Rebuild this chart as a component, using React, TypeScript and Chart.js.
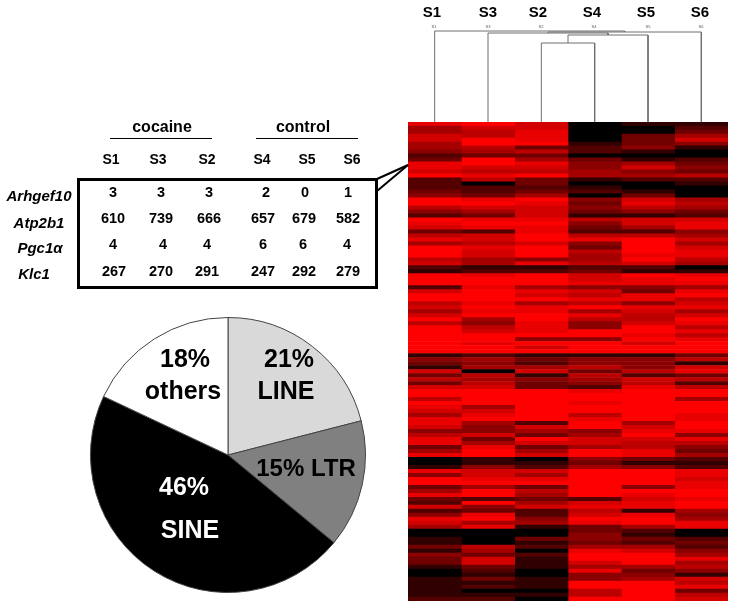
import React, { useEffect, useRef } from "react";
import { Chart, registerables } from "chart.js";

Chart.register(...registerables);

// ---------- data ----------
const samples = ["S1", "S3", "S2", "S4", "S5", "S6"];
const genes = ["Arhgef10", "Atp2b1", "Pgc1α", "Klc1"];
const arhgef10 = [3, 3, 3, 2, 0, 1];
const atp2b1 = [610, 739, 666, 657, 679, 582];
const pgc1a = [4, 4, 4, 6, 6, 4];
const klc1 = [267, 270, 291, 247, 292, 279];

const pieLabels = ["LINE", "LTR", "SINE", "others"];
const pieValues = [21, 15, 46, 18];
const pieColors = ["#d9d9d9", "#808080", "#000000", "#ffffff"];

// heat map intensity per row (0 = black, 9 = full red)
const heatS1 = [8,5,5,7,7,5,5,4,2,3,8,8,7,9,2,2,2,3,4,9,9,6,4,2,9,8,7,3,6,8,5,9,9,9,6,7,2,1,9,
  9,9,2,7,9,9,6,7,5,7,9,6,9,9,9,9,9,9,9,1,4,3,1,7,3,6,3,7,9,9,6,9,8,7,5,8,8,7,4,6,
  8,8,3,5,8,0,0,1,8,4,9,9,3,5,8,3,2,7,2,4,8,7,5,0,0,1,1,3,1,4,3,3,1,0,0,1,1,1,1,1,2];
const heatS3 = [9,7,6,6,9,9,6,5,3,9,9,7,6,8,6,0,2,2,3,8,9,7,5,3,8,9,8,2,7,7,6,8,7,7,5,5,1,2,8,
  9,9,8,9,9,9,8,9,8,9,5,4,6,7,9,9,8,9,9,2,5,4,5,0,6,5,6,7,9,9,9,9,5,7,8,9,5,4,4,7,
  3,5,8,9,9,1,1,4,7,7,8,9,5,9,9,2,9,4,3,8,9,5,8,0,0,0,0,6,5,3,7,7,3,2,1,3,1,2,0,1,2];
const heatS2 = [7,7,8,8,8,9,3,6,3,5,8,7,6,9,3,3,2,3,5,9,8,7,7,7,8,9,8,8,9,9,7,9,9,9,4,8,1,2,9,
  9,9,5,8,7,9,5,8,8,9,9,8,8,8,9,4,9,7,9,1,3,2,5,7,1,4,3,3,9,9,9,9,9,9,9,9,2,7,5,3,
  9,7,3,5,7,0,1,2,7,5,8,9,3,6,5,3,5,7,2,2,4,5,1,0,0,3,1,2,0,2,1,1,1,0,0,1,1,1,0,1,0];
const heatS4 = [0,0,0,0,0,1,2,2,0,3,4,4,5,5,1,0,1,2,0,4,3,4,3,1,6,4,3,2,6,8,4,3,6,5,5,6,2,3,7,
  7,8,4,7,6,8,6,9,5,8,6,4,4,9,9,4,9,9,9,1,4,4,6,3,6,5,4,2,8,9,9,8,9,9,6,8,9,9,4,5,
  7,7,5,9,9,4,3,5,9,9,9,9,9,9,9,2,7,8,6,7,9,8,3,3,4,4,3,5,8,9,9,7,5,8,4,4,9,9,6,6,9];
const heatS5 = [1,0,0,3,3,3,4,1,0,1,5,7,4,5,2,0,0,1,3,7,8,6,4,1,7,7,5,2,6,9,9,9,9,8,9,7,2,1,9,
  8,8,4,3,8,8,4,8,7,6,6,7,9,9,8,9,7,9,9,1,4,4,4,6,2,7,6,8,9,9,9,9,9,9,9,9,5,7,8,9,
  7,6,6,8,8,3,1,4,9,9,9,9,4,9,8,7,8,8,1,8,9,9,5,2,1,3,2,5,7,9,9,9,5,3,4,5,9,9,9,9,9];
const heatS6 = [1,2,3,5,7,4,1,0,0,2,3,4,3,6,2,1,0,0,0,5,6,5,3,2,7,8,8,4,5,7,5,7,8,8,6,5,0,1,8,
  9,8,5,8,9,6,7,8,5,7,9,8,6,8,6,8,9,9,9,3,6,1,7,8,3,6,2,6,9,9,5,9,9,9,8,8,9,9,8,4,
  8,6,4,3,5,2,1,2,8,8,7,8,8,9,9,8,9,9,5,4,5,8,8,0,0,2,3,2,4,5,8,5,6,4,1,7,6,8,3,6,7];
const heatColumns = [heatS1, heatS3, heatS2, heatS4, heatS5, heatS6];

// dendrogram: leaf heights are zero, merges listed from lowest to highest
const mergeLeft = ["S2", "S2+S4", "S3", "S3+S245", "S1"];
const mergeRight = ["S4", "S5", "S2+S4+S5", "S6", "rest"];
const mergeHeights = [79, 87, 89, 90, 91];

// ---------- layout ----------
const FONT = '"Liberation Sans", Arial, sans-serif';
const headX = [111, 158, 207, 262, 307, 352];
const rowY = [192, 218, 244, 271];
const cellX = [
  [113, 161, 209, 266, 305, 348],
  [113, 161, 209, 263, 304, 348],
  [113, 163, 207, 263, 303, 347],
  [114, 161, 207, 263, 304, 348],
];
const geneX = [39, 39, 40, 34];
const geneY = [195, 222, 247, 273];
const topX = [432, 488, 538, 592, 646, 700];
const leafX = [434, 488, 541, 594, 648, 701];

function Txt(p: { x: number; y: number; t: string; size: number; color?: string; bold?: boolean; italic?: boolean }) {
  return (
    <div
      style={{
        position: "absolute",
        left: p.x,
        top: p.y,
        transform: "translate(-50%,-50%)",
        font: `${p.italic ? "italic " : ""}${p.bold === false ? "" : "bold "}${p.size}px ${FONT}`,
        color: p.color ?? "#000",
        whiteSpace: "pre",
        lineHeight: 1,
      }}
    >
      {p.t}
    </div>
  );
}

export default function App() {
  const heatRef = useRef<HTMLCanvasElement>(null);
  const dendroRef = useRef<HTMLCanvasElement>(null);
  const pieRef = useRef<HTMLCanvasElement>(null);

  useEffect(() => {
    const rows = heatColumns[0].map((_, i) => `g${i + 1}`);
    const heat = new Chart(heatRef.current!, {
      type: "bar",
      data: {
        labels: rows,
        datasets: samples.map((s, c) => ({
          label: s,
          data: rows.map(() => 1),
          backgroundColor: heatColumns[c].map((v) => `rgb(${Math.round(Math.pow(v / 9, 0.75) * 255)},0,0)`),
          borderWidth: 0,
          barPercentage: 1,
          categoryPercentage: 1,
        })),
      },
      options: {
        indexAxis: "y",
        responsive: false,
        animation: false,
        layout: { padding: 0 },
        plugins: { legend: { display: false }, tooltip: { enabled: false } },
        scales: {
          x: { stacked: true, display: false, min: 0, max: 6 },
          y: { stacked: true, display: false },
        },
      },
    });

    // build dendrogram brackets from the merge heights
    const px = [0.5, 1.5, 2.5, 3.5, 4.5, 5.5];
    const m0 = { x: (px[2] + px[3]) / 2, h: mergeHeights[0] };
    const m1 = { x: (m0.x + px[4]) / 2, h: mergeHeights[1] };
    const m2 = { x: (px[1] + m1.x) / 2, h: mergeHeights[2] };
    const m3 = { x: (m2.x + px[5]) / 2, h: mergeHeights[3] };
    const bracket = (ax: number, ah: number, bx: number, bh: number, h: number) => [
      { x: ax, y: ah },
      { x: ax, y: h },
      { x: bx, y: h },
      { x: bx, y: bh },
    ];
    const brackets = [
      bracket(px[2], 0, px[3], 0, m0.h),
      bracket(m0.x, m0.h, px[4], 0, m1.h),
      bracket(px[1], 0, m1.x, m1.h, m2.h),
      bracket(m2.x, m2.h, px[5], 0, m3.h),
      bracket(px[0], 0, m3.x, m3.h, mergeHeights[4]),
    ];
    const dendro = new Chart(dendroRef.current!, {
      type: "scatter",
      data: {
        datasets: brackets.map((b, i) => ({
          label: `${mergeLeft[i]}|${mergeRight[i]}`,
          data: b,
          showLine: true,
          borderColor: "#6e6e6e",
          borderWidth: 1,
          pointRadius: 0,
        })),
      },
      options: {
        responsive: false,
        animation: false,
        layout: { padding: 0 },
        plugins: { legend: { display: false }, tooltip: { enabled: false } },
        scales: {
          x: { type: "linear", display: false, min: 0, max: 6 },
          y: { type: "linear", display: false, min: 0, max: 102 },
        },
      },
    });

    const pie = new Chart(pieRef.current!, {
      type: "pie",
      data: {
        labels: pieLabels,
        datasets: [
          {
            data: pieValues,
            backgroundColor: pieColors,
            borderColor: "#444444",
            borderWidth: 1,
          },
        ],
      },
      options: {
        responsive: false,
        animation: false,
        layout: { padding: 0 },
        plugins: { legend: { display: false }, tooltip: { enabled: false } },
      },
    });

    return () => {
      heat.destroy();
      dendro.destroy();
      pie.destroy();
    };
  }, []);

  const table = [arhgef10, atp2b1, pgc1a, klc1];

  return (
    <div style={{ position: "fixed", left: 0, top: 0, width: 733, height: 607, background: "#fff", overflow: "hidden" }}>
      <canvas ref={heatRef} width={320} height={479} style={{ position: "absolute", left: 408, top: 122, display: "block" }} />
      <canvas ref={dendroRef} width={320} height={102} style={{ position: "absolute", left: 408, top: 20, display: "block" }} />
      <canvas ref={pieRef} width={276} height={276} style={{ position: "absolute", left: 90, top: 317, display: "block" }} />

      <svg width={733} height={607} style={{ position: "absolute", left: 0, top: 0 }}>
        <line x1={110} y1={138.5} x2={212} y2={138.5} stroke="#000" strokeWidth={1} />
        <line x1={256} y1={138.5} x2={358} y2={138.5} stroke="#000" strokeWidth={1} />
        <rect x={78.5} y={179.5} width={298} height={108} fill="none" stroke="#000" strokeWidth={3} />
        <line x1={377} y1={179} x2={408} y2={165} stroke="#000" strokeWidth={2} />
        <line x1={377} y1={191} x2={408} y2={165} stroke="#000" strokeWidth={2} />
      </svg>

      {samples.map((s, i) => (
        <Txt key={`top${s}`} x={topX[i]} y={11} t={s} size={15} />
      ))}
      {samples.map((s, i) => (
        <Txt key={`leaf${s}`} x={leafX[i]} y={27} t={s} size={4} color="#555" bold={false} />
      ))}

      <Txt x={162} y={127} t="cocaine" size={16} />
      <Txt x={303} y={127} t="control" size={16} />
      {samples.map((s, i) => (
        <Txt key={`head${s}`} x={headX[i]} y={159} t={s} size={14} />
      ))}
      {genes.map((g, i) => (
        <Txt key={g} x={geneX[i]} y={geneY[i]} t={g} size={15} italic />
      ))}
      {table.map((row, r) =>
        row.map((v, c) => <Txt key={`${r}-${c}`} x={cellX[r][c]} y={rowY[r]} t={String(v)} size={14.5} />)
      )}

      <Txt x={185} y={358} t="18%" size={25} />
      <Txt x={183} y={390} t="others" size={25} />
      <Txt x={289} y={358} t="21%" size={25} />
      <Txt x={286} y={390} t="LINE" size={25} />
      <Txt x={306} y={468} t="15% LTR" size={24} />
      <Txt x={184} y={486} t="46%" size={25} color="#fff" />
      <Txt x={190} y={529} t="SINE" size={25} color="#fff" />
    </div>
  );
}
